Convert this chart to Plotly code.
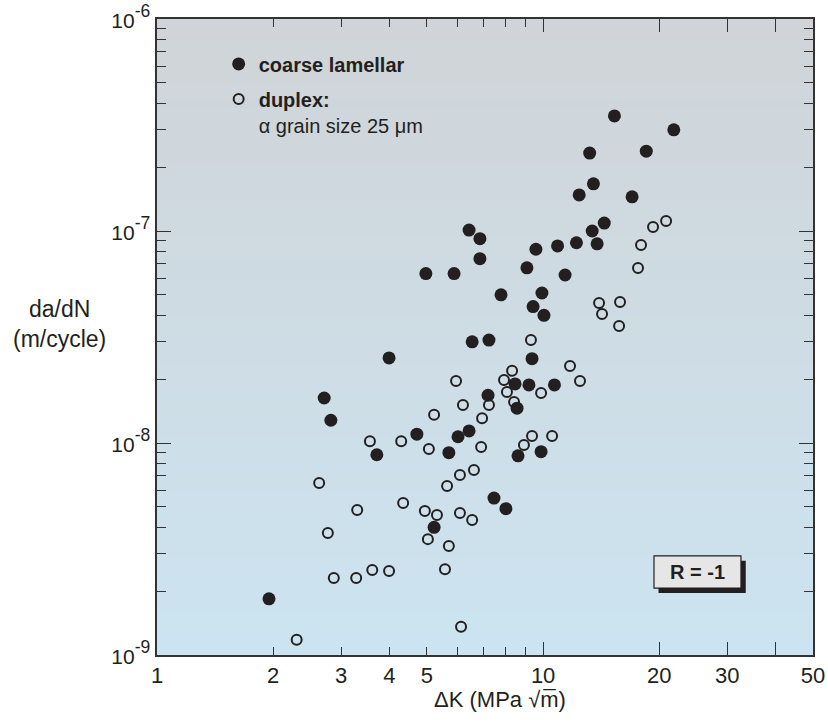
import math
import plotly.graph_objects as go

# ---------------- data ----------------
lam_dk = [15.3, 21.8, 13.2, 18.5, 13.5, 12.4, 17.0, 14.4, 13.4, 13.8,
          12.2, 10.9, 9.58, 6.43, 6.86, 6.86, 4.97, 5.88, 9.08, 11.4,
          7.78, 9.93, 9.42, 10.05, 6.55, 7.24, 9.36, 8.46, 9.19, 10.7,
          7.20, 8.56, 4.71, 6.02, 6.43, 5.70, 8.61, 9.88, 7.46, 8.01,
          5.22, 3.99, 2.71, 2.82, 3.71, 1.95]
lam_dadn = [3.49e-7, 3.0e-7, 2.33e-7, 2.38e-7, 1.67e-7, 1.48e-7, 1.45e-7, 1.09e-7, 1.0e-7, 8.7e-8,
            8.8e-8, 8.5e-8, 8.2e-8, 1.01e-7, 9.2e-8, 7.4e-8, 6.3e-8, 6.3e-8, 6.7e-8, 6.2e-8,
            5.0e-8, 5.1e-8, 4.4e-8, 4.0e-8, 3.0e-8, 3.06e-8, 2.5e-8, 1.9e-8, 1.88e-8, 1.88e-8,
            1.68e-8, 1.46e-8, 1.10e-8, 1.07e-8, 1.14e-8, 9.0e-9, 8.7e-9, 9.1e-9, 5.5e-9, 4.9e-9,
            4.0e-9, 2.52e-8, 1.63e-8, 1.28e-8, 8.8e-9, 1.84e-9]

dup_dk = [3.56, 4.29, 2.63, 3.30, 4.34, 2.77, 2.87, 3.28, 3.61, 3.99,
          2.30, 5.06, 6.91, 6.09, 6.62, 5.64, 4.94, 5.31, 6.09, 6.55,
          5.03, 5.70, 5.57, 6.13, 8.92, 9.36, 10.55, 9.30, 8.31, 7.92,
          8.06, 5.95, 6.20, 7.24, 8.41, 6.95, 5.22, 9.88, 11.74, 12.46,
          15.73, 20.82, 19.26, 17.93, 17.61, 13.96, 15.82, 14.21]
dup_dadn = [1.02e-8, 1.02e-8, 6.48e-9, 4.83e-9, 5.21e-9, 3.76e-9, 2.31e-9, 2.31e-9, 2.52e-9, 2.49e-9,
            1.18e-9, 9.37e-9, 9.57e-9, 7.06e-9, 7.46e-9, 6.27e-9, 4.78e-9, 4.57e-9, 4.67e-9, 4.33e-9,
            3.52e-9, 3.27e-9, 2.54e-9, 1.36e-9, 9.78e-9, 1.079e-8, 1.079e-8, 3.06e-8, 2.19e-8, 1.98e-8,
            1.74e-8, 1.96e-8, 1.51e-8, 1.51e-8, 1.56e-8, 1.31e-8, 1.36e-8, 1.72e-8, 2.31e-8, 1.96e-8,
            3.56e-8, 1.115e-7, 1.044e-7, 8.59e-8, 6.69e-8, 4.57e-8, 4.62e-8, 4.06e-8]

series_names = ["<b>coarse lamellar</b>", "<b>duplex:</b><br>α grain size 25 μm"]

x_tick_vals = [1, 2, 3, 4, 5, 10, 20, 30, 50]
x_tick_text = ["1", "2", "3", "4", "5", "10", "20", "30", "50"]
x_minor_vals = [6, 7, 8, 9]
x_long_ticks = [10, 20, 30, 40]
y_tick_vals = [1e-9, 1e-8, 1e-7, 1e-6]
y_exponents = ["-9", "-8", "-7", "-6"]
y_minor_vals = [m * 10.0 ** e for e in range(-9, -6) for m in range(2, 10)]

x_range = [0, math.log10(50)]
y_range = [-9, -6]

# ---------------- style ----------------
INK = "#231f20"
FRAME = "#333333"
FONT = "Liberation Sans, Arial, Helvetica, sans-serif"
TOP_RGB = (208, 212, 216)
BOT_RGB = (204, 228, 241)

# base "10" at 21px, exponent inherits 70% of the 25px axis font (~17.5px)
y_tick_text = ["<span style='font-size:21px'>10</span><sup>%s</sup>" % e for e in y_exponents]

fig = go.Figure()

fig.add_trace(go.Scatter(
    x=dup_dk, y=dup_dadn, mode="markers", name=series_names[1],
    legendrank=2, legendgroup="b",
    marker=dict(symbol="circle-open", size=10, color=INK, line=dict(width=2, color=INK)),
))
fig.add_trace(go.Scatter(
    x=lam_dk, y=lam_dadn, mode="markers", name=series_names[0],
    legendrank=1, legendgroup="a",
    marker=dict(symbol="circle", size=13, color=INK, line=dict(width=0)),
))
# empty trace to carry the overlay axis with the long ticks
fig.add_trace(go.Scatter(x=[], y=[], xaxis="x2", showlegend=False, hoverinfo="skip"))

# gradient background made of thin stripes
shapes = []
N = 120
for i in range(N):
    t = i / (N - 1)
    r = round(BOT_RGB[0] + (TOP_RGB[0] - BOT_RGB[0]) * t)
    g = round(BOT_RGB[1] + (TOP_RGB[1] - BOT_RGB[1]) * t)
    b = round(BOT_RGB[2] + (TOP_RGB[2] - BOT_RGB[2]) * t)
    shapes.append(dict(type="rect", xref="paper", yref="paper", layer="below",
                       x0=0, x1=1, y0=i / N, y1=min(1, (i + 1) / N + 0.003),
                       fillcolor=f"rgb({r},{g},{b})", line=dict(width=0)))

# R = -1 box with shadow
shapes.append(dict(type="rect", xref="paper", yref="paper", x0=0.7645, x1=0.8975, y0=0.0975, y1=0.148,
                   fillcolor="#231f20", line=dict(width=0)))
shapes.append(dict(type="rect", xref="paper", yref="paper", x0=0.7576, x1=0.8902, y0=0.1053, y1=0.1557,
                   fillcolor="#e6e6e6", line=dict(width=1.2, color=INK)))

axis_common = dict(type="log", showgrid=False, zeroline=False, showline=True,
                   linecolor=FRAME, linewidth=1.6, ticks="inside", tickcolor=FRAME,
                   tickwidth=1.3, mirror="ticks", automargin=False)

fig.update_layout(
    width=828, height=723, template="none",
    margin=dict(l=157, r=15, t=19, b=68, pad=0),
    paper_bgcolor="white", plot_bgcolor="rgb(206,220,229)",
    font=dict(family=FONT, color=INK, size=20),
    shapes=shapes,
    xaxis=dict(**axis_common, range=x_range, tickmode="array", tickvals=x_tick_vals,
               ticktext=x_tick_text, ticklen=8,
               tickfont=dict(size=22, color=INK, family=FONT),
               minor=dict(tickmode="array", tickvals=x_minor_vals, ticklen=8,
                          ticks="inside", tickcolor=FRAME, tickwidth=1.3, showgrid=False)),
    xaxis2=dict(type="log", range=x_range, overlaying="x", anchor="y", side="bottom",
                showgrid=False, zeroline=False, showline=False, ticks="inside",
                tickcolor=FRAME, tickwidth=1.3, ticklen=13, mirror="ticks",
                tickmode="array", tickvals=x_long_ticks, showticklabels=False,
                automargin=False),
    yaxis=dict(**axis_common, range=y_range, tickmode="array", tickvals=y_tick_vals,
               ticktext=y_tick_text, ticklen=14,
               tickfont=dict(size=25, color=INK, family=FONT),
               minor=dict(tickmode="array", tickvals=y_minor_vals, ticklen=9,
                          ticks="inside", tickcolor=FRAME, tickwidth=1.3, showgrid=False)),
    legend=dict(x=0.094, y=0.96, xanchor="left", yanchor="top", bgcolor="rgba(0,0,0,0)",
                font=dict(size=20, color=INK, family=FONT), valign="top",
                tracegroupgap=6, itemsizing="trace"),
    showlegend=True,
    annotations=[
        dict(xref="paper", yref="paper", x=-0.148, y=0.52, xanchor="center", yanchor="middle",
             text="da/dN<br>(m/cycle)", showarrow=False, align="center",
             font=dict(size=23, color=INK, family=FONT)),
        dict(xref="paper", yref="paper", x=0.523, y=-0.07, xanchor="center", yanchor="middle",
             text="ΔK (MPa \u221am\u0305)", showarrow=False,
             font=dict(size=22, color=INK, family=FONT)),
        dict(xref="paper", yref="paper", x=0.824, y=0.1305, xanchor="center", yanchor="middle",
             text="<b>R = -1</b>", showarrow=False,
             font=dict(size=20, color=INK, family=FONT)),
    ],
)

fig.write_html("out.html")
